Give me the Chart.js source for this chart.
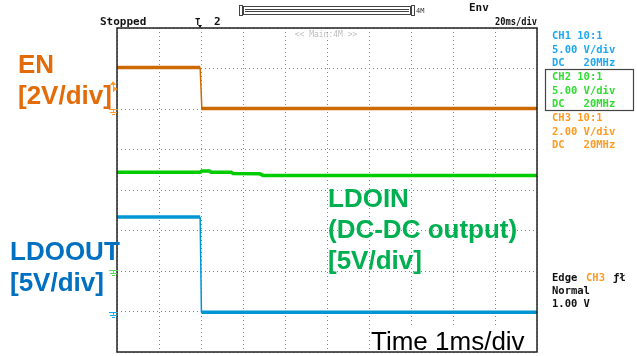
<!DOCTYPE html>
<html>
<head>
<meta charset="utf-8">
<title>LDO shutdown waveform</title>
<script src="https://cdn.jsdelivr.net/npm/chart.js@4.4.0/dist/chart.umd.min.js"></script>
<style>
  html, body { margin: 0; padding: 0; background: #fff; }
  #wrap { width: 637px; height: 356px; }
</style>
</head>
<body>
<div id="wrap"><canvas id="scope" width="637" height="356"></canvas></div>
<script>
// horizontal: ms, 1 ms/div, trigger at 0
const timeMin = -2;
const timeMax = 8;
const divCount = 8;

// EN (CH3), volts
const enTime  = [-2, -0.02, 0.02, 8];
const enVolts = [2.05, 2.05, 0.02, 0.02];

// LDOIN = DC-DC output (CH2), volts
const ldoinTime  = [-2, -0.02, 0.02, 0.2, 0.24, 0.72, 0.76, 1.4, 1.48, 8];
const ldoinVolts = [12.2, 12.2, 12.35, 12.35, 12.2, 12.2, 12.05, 12.0, 11.8, 11.8];

// LDOOUT (CH1), volts
const ldooutTime  = [-2, -0.02, 0.01, 8];
const ldooutVolts = [11.86, 11.86, 0.12, 0.12];

const triggerLevel = 1.0; // CH3 edge trigger, volts

// channel setup: volts per div, ground marker (divs from bottom)
const chSetup = {
  en:     { vdiv: 2, gnd: 6 },
  ldoin:  { vdiv: 5, gnd: 2 },
  ldoout: { vdiv: 5, gnd: 0.96 },
};

const COL = {
  enTrace: '#cc6a00', enText: '#e36c0a', ch3: '#ff9a22',
  inTrace: '#00cc00', inText: '#00b050', ch2: '#30dd30',
  outTrace: '#0096d4', outText: '#0070c0', ch1: '#1ea8f2',
  grid: '#858585'
};

const pts = (t, v) => t.map((x, i) => ({ x: x, y: v[i] }));

function chScale(key) {
  const c = chSetup[key];
  return {
    type: 'linear', display: false,
    min: -c.gnd * c.vdiv, max: (divCount - c.gnd) * c.vdiv
  };
}

function trace(label, data, color, axis) {
  return {
    label: label, data: data, yAxisID: axis,
    borderColor: color, borderWidth: 3.5,
    pointRadius: 0, tension: 0, fill: false,
    segment: {
      // fast edges come out as thin strokes on the scope
      borderWidth: ctx => {
        const dx = Math.abs(ctx.p1.x - ctx.p0.x);
        const dy = Math.abs(ctx.p1.y - ctx.p0.y);
        return dx < 3 && dy > 12 ? 1.5 : 3.5;
      }
    }
  };
}

function ground(ctx, x, y, color) {
  ctx.fillStyle = color;
  ctx.fillRect(x - 4, y, 9, 1);
  ctx.fillRect(x, y, 1, 3);
  ctx.fillRect(x - 3, y + 3, 7, 1);
  ctx.fillRect(x - 1, y + 5, 3, 1);
}

const scopeDecor = {
  id: 'scopeDecor',
  afterDraw(chart) {
    const ctx = chart.ctx;
    const a = chart.chartArea;
    const sx = chart.scales.x;
    ctx.save();

    // screen frame
    ctx.strokeStyle = '#222';
    ctx.lineWidth = 1.5;
    ctx.strokeRect(a.left, a.top, a.right - a.left, a.bottom - a.top);

    // ground / trigger markers on the left edge
    const gx = a.left - 4;
    ground(ctx, gx, Math.round(chart.scales.yEN.getPixelForValue(0)), COL.ch3);
    ground(ctx, gx, Math.round(chart.scales.yIN.getPixelForValue(0)) - 1, '#55dd55');
    ground(ctx, gx, Math.round(chart.scales.yOUT.getPixelForValue(0)) - 1, COL.ch1);
    const ty = Math.round(chart.scales.yEN.getPixelForValue(triggerLevel));
    ctx.fillStyle = COL.ch3;
    ctx.fillRect(gx, ty - 7, 1, 10);
    ctx.beginPath();
    ctx.moveTo(gx - 3, ty - 4); ctx.lineTo(gx, ty - 8); ctx.lineTo(gx + 3, ty - 4);
    ctx.closePath(); ctx.fill();
    ctx.beginPath();
    ctx.moveTo(gx + 1, ty - 2); ctx.lineTo(gx + 5, ty); ctx.lineTo(gx + 1, ty + 2);
    ctx.closePath(); ctx.fill();

    // top status line
    const mono = '"DejaVu Sans Mono", monospace';
    ctx.fillStyle = '#111';
    ctx.font = 'bold 11px ' + mono;
    ctx.textBaseline = 'alphabetic';
    ctx.fillText('Stopped', 100, 25);
    ctx.fillText('2', 214, 25);
    ctx.fillText('Env', 469, 11);
    ctx.textAlign = 'right';
    ctx.fillText('20ms/div', a.right, 25, 42);
    ctx.textAlign = 'left';

    // trigger position marker
    const tx = Math.round(sx.getPixelForValue(0));
    ctx.font = 'bold 9px ' + mono;
    ctx.fillText('T', tx - 6, 25);
    ctx.beginPath();
    ctx.moveTo(tx - 3, a.top - 3); ctx.lineTo(tx + 1, a.top - 3); ctx.lineTo(tx - 1, a.top);
    ctx.closePath(); ctx.fill();

    // record length bar
    ctx.strokeStyle = '#444';
    ctx.lineWidth = 1;
    ctx.strokeRect(243.5, 6.5, 167, 8);
    ctx.beginPath();
    ctx.moveTo(245, 9.5); ctx.lineTo(409, 9.5);
    ctx.moveTo(245, 11.5); ctx.lineTo(409, 11.5);
    ctx.stroke();
    ctx.strokeRect(239.5, 5.5, 3, 10);
    ctx.strokeRect(411.5, 5.5, 3, 10);
    ctx.font = '7px ' + mono;
    ctx.fillStyle = '#333';
    ctx.fillText('4M', 416, 13);

    ctx.fillStyle = '#bdbdbd';
    ctx.font = '8px ' + mono;
    ctx.textAlign = 'center';
    ctx.fillText('<< Main:4M >>', (a.left + a.right) / 2 - 1, 37);
    ctx.textAlign = 'left';

    // channel settings panel
    ctx.font = 'bold 10.5px ' + mono;
    const panel = [
      ['CH1 10:1', '5.00 V/div', 'DC   20MHz', COL.ch1],
      ['CH2 10:1', '5.00 V/div', 'DC   20MHz', COL.ch2],
      ['CH3 10:1', '2.00 V/div', 'DC   20MHz', COL.ch3]
    ];
    panel.forEach((p, i) => {
      ctx.fillStyle = p[3];
      const y0 = 39 + i * 41;
      ctx.fillText(p[0], 552, y0);
      ctx.fillText(p[1], 552, y0 + 14);
      ctx.fillText(p[2], 552, y0 + 27);
    });
    ctx.strokeStyle = '#444';
    ctx.lineWidth = 1.2;
    ctx.strokeRect(545.5, 69.5, 88, 41);

    ctx.fillStyle = '#111';
    ctx.fillText('Edge', 552, 281);
    ctx.fillStyle = COL.ch3;
    ctx.fillText('CH3', 586, 281);
    ctx.fillStyle = '#111';
    ctx.fillText('\u0192\u0142', 613, 281);
    ctx.fillText('Normal', 552, 294);
    ctx.fillText('1.00 V', 552, 307);

    // signal labels
    const sans = '"Liberation Sans", Arial, sans-serif';
    ctx.font = 'bold 26px ' + sans;
    ctx.fillStyle = COL.enText;
    ctx.fillText('EN', 18, 73);
    ctx.fillText('[2V/div]', 18, 104);
    ctx.fillStyle = COL.inText;
    ctx.fillText('LDOIN', 328, 207);
    ctx.fillText('(DC-DC output)', 328, 238);
    ctx.fillText('[5V/div]', 328, 269);
    ctx.fillStyle = COL.outText;
    ctx.fillText('LDOOUT', 10, 260);
    ctx.fillText('[5V/div]', 10, 291);

    // time base note
    ctx.fillStyle = '#fff';
    ctx.fillRect(370, 326, a.right - 371, a.bottom - 327);
    ctx.fillStyle = '#000';
    ctx.font = '26px ' + sans;
    ctx.fillText('Time 1ms/div', 371, 350);

    ctx.restore();
  }
};

new Chart(document.getElementById('scope'), {
  type: 'line',
  data: {
    datasets: [
      trace('EN', pts(enTime, enVolts), COL.enTrace, 'yEN'),
      trace('LDOIN', pts(ldoinTime, ldoinVolts), COL.inTrace, 'yIN'),
      trace('LDOOUT', pts(ldooutTime, ldooutVolts), COL.outTrace, 'yOUT')
    ]
  },
  options: {
    responsive: false,
    animation: false,
    events: [],
    layout: { padding: { left: 117, right: 100, top: 28, bottom: 4 } },
    plugins: { legend: { display: false }, tooltip: { enabled: false } },
    scales: {
      x: {
        type: 'linear', min: timeMin, max: timeMax,
        ticks: { display: false, stepSize: 1 },
        grid: { color: COL.grid, lineWidth: 1, drawTicks: false },
        border: { display: false, dash: [1, 3] }
      },
      yDiv: {
        type: 'linear', position: 'left', min: 0, max: divCount,
        ticks: { display: false, stepSize: 1 },
        grid: { color: COL.grid, lineWidth: 1, drawTicks: false },
        border: { display: false, dash: [1, 3] }
      },
      yEN: chScale('en'),
      yIN: chScale('ldoin'),
      yOUT: chScale('ldoout')
    }
  },
  plugins: [scopeDecor]
});
</script>
</body>
</html>
